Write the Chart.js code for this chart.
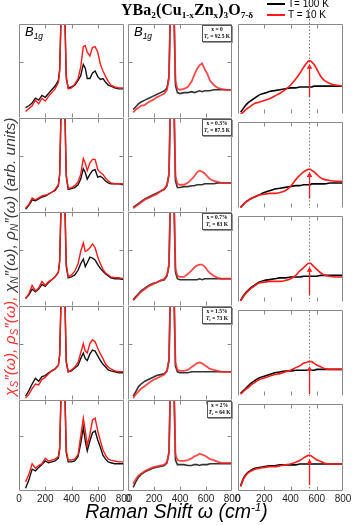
<!DOCTYPE html>
<html>
<head>
<meta charset="utf-8">
<script src="https://cdn.jsdelivr.net/npm/chart.js@4.4.0/dist/chart.umd.min.js"></script>
<style>
  body { margin: 0; width: 353px; height: 525px; overflow: hidden; position: relative; background: #fff;
         font-family: "Liberation Sans", Arial, sans-serif; }
  canvas { position: absolute; }
  .t { position: absolute; white-space: nowrap; }
  sub { font-size: 65%; vertical-align: -0.3em; line-height: 0; }
  sup { font-size: 60%; vertical-align: 0.6em; line-height: 0; }
  .box { position: absolute; border: 1px solid #555; background: #fff; box-shadow: 1px 1px 0 #999;
         font: bold 5.5px "Liberation Serif", serif; line-height: 7px; text-align: center; }
</style>
</head>
<body>
<script>
// Raman shift grids (cm-1), one per column
const FREQ_RAW = [50,75,100,125,150,175,200,225,250,275,300,310,320,335,350,360,375,400,425,450,
                  470,490,505,520,540,560,580,600,620,640,660,680,700,730,760,800];
const FREQ_EL = [40,60,80,100,130,160,190,220,250,280,300,315,325,340,355,365,380,400,430,460,
                 490,510,530,550,570,590,610,630,660,690,720,760,800];
const FREQ_MOD = [20,40,60,80,100,130,160,200,240,280,320,360,400,440,470,500,520,540,550,560,
                  580,600,630,660,700,750,800];

// column 1 : measured B1g spectra, T = 10 K (red) and T = 100 K (black), rows x = 0 ... 2 %
const RAW_10K = [
  [7,10,13,19,15,21,18,23,27,31,38,50,105,200,105,45,31,32,36,42,54,76,77,70,66,75,76,70,57,50,44,39,35,33,32,32],
  [4,8,15,13,15,17,18,19,21,24,29,40,105,200,105,40,25,26,28,32,40,57,52,44,52,56,56,45,42,40,36,33,31,30,30,30],
  [8,13,22,16,19,26,22,26,28,31,36,48,105,200,105,45,31,33,37,45,58,67,58,59,62,66,62,52,45,39,35,33,31,30,30,29],
  [2,6,12,17,16,22,24,28,31,33,37,48,105,200,105,42,30,32,35,40,50,60,52,50,60,64,62,55,49,44,38,35,33,31,30,30],
  [10,18,30,25,28,30,36,33,34,35,38,48,105,200,105,45,34,34,35,40,60,80,66,50,62,78,80,66,55,45,39,35,34,33,32,32]
];
const RAW_100K = [
  [11,13,16,21,19,24,22,26,30,34,40,52,105,200,105,42,32,33,35,40,45,57,53,42,42,48,50,44,41,42,38,35,34,32,31,31],
  [3,7,13,12,14,16,17,19,21,23,28,40,105,200,105,38,24,25,26,29,35,46,42,35,40,44,45,37,38,36,33,31,30,30,30,29],
  [8,12,18,15,18,23,21,25,28,31,36,48,105,200,105,42,30,31,33,38,45,50,42,46,52,51,49,44,40,37,34,32,30,29,29,28],
  [4,10,17,23,20,25,26,29,31,33,37,48,105,200,105,40,30,31,34,37,44,50,44,42,49,53,52,47,42,38,35,32,31,30,29,29],
  [3,12,24,22,26,29,33,31,32,33,36,46,105,200,105,42,32,32,33,38,52,70,55,44,55,64,66,56,48,39,35,32,31,30,30,30]
];

// column 2 : electronic response (phonons subtracted)
const EL_10K = [
  [6,9,11,13,14,17,19,22,24,26,30,42,105,200,105,40,31,30,31,33,39,46,52,56,58,52,47,40,35,32,31,30,30],
  [4,6,8,10,13,15,17,19,22,25,29,40,105,200,105,38,30,29,29,31,35,38,42,44,43,41,38,35,33,32,31,31,31],
  [6,9,12,15,18,21,23,25,27,29,33,44,105,200,105,40,32,31,31,34,38,41,43,44,44,42,38,35,32,30,29,29,29],
  [2,6,9,12,15,18,21,23,25,27,31,42,105,200,105,40,32,31,31,32,35,37,39,40,39,37,35,33,32,31,30,30,30],
  [8,13,17,19,22,24,26,27,28,29,32,42,105,200,105,40,34,33,33,34,36,38,39,41,40,39,37,35,34,32,31,31,31]
];
const EL_100K = [
  [9,12,15,17,19,21,23,25,27,29,32,44,105,200,105,35,27,26,27,27,28,27,28,29,28,29,29,29,30,30,30,30,30],
  [5,7,9,11,14,16,18,20,22,24,28,40,105,200,105,33,26,26,27,27,28,28,29,29,29,30,30,30,30,31,31,31,31],
  [7,10,13,16,19,22,24,25,27,28,32,43,105,200,105,36,29,28,28,28,28,28,28,29,28,29,29,29,29,29,29,29,29],
  [4,9,14,17,20,22,24,26,27,28,31,42,105,200,105,36,30,29,29,29,30,30,30,30,30,30,30,30,30,30,30,30,30],
  [4,10,15,18,21,23,25,26,27,28,31,42,105,200,105,34,29,29,29,28,28,29,29,28,29,29,29,30,30,30,30,30,30]
];

// column 3 : model curves
const MOD_10K = [
  [0,2,5,7,9,12,13,15,17,20,23,27,32,39,45,52,56,59,59,58,55,50,42,37,34,32,31],
  [0,4,7,9,11,13,15,16,17,17,18,20,25,33,38,42,44,45,45,44,42,39,35,33,32,31,31],
  [1,6,10,13,16,19,22,23,24,24,24,25,27,31,36,40,43,45,45,44,41,38,34,31,30,29,29],
  [2,5,8,10,13,16,19,21,23,25,26,28,30,33,35,38,39,40,40,40,38,36,34,32,31,31,31],
  [5,13,18,21,23,25,26,27,28,28,29,30,31,33,35,38,40,41,41,40,38,36,34,32,31,31,31]
];
const MOD_100K = [
  [2,6,10,13,15,18,21,23,25,26,27,28,29,29,30,30,30,30,30,30,31,31,31,31,31,31,31],
  [1,4,7,9,11,13,15,18,20,22,23,24,25,26,26,27,27,27,27,28,28,28,28,28,29,29,29],
  [2,7,11,14,17,20,23,25,26,27,28,28,29,29,29,30,30,30,30,30,30,30,31,31,31,31,31],
  [3,6,9,12,15,18,21,23,25,27,28,29,29,30,30,30,30,30,30,30,30,31,31,31,31,31,31],
  [6,14,19,22,24,26,27,28,29,29,30,30,30,30,31,31,31,31,31,31,31,31,31,31,31,31,31]
];
const GAP_FREQ = 545;                 // dotted line / arrows
const ARROW_FROM = [19, 11, 8, 2, 7];
const ARROW_TO = [52, 38, 37, 31, 33];

const ZN_LABELS = ['x = 0', 'x = 0.3%', 'x = 0.7%', 'x = 1.5%', 'x = 2%'];
const TC_LABELS = ['92.5 K', '87.5 K', '83 K', '73 K', '64 K'];
const X_TICKS = [0, 200, 400, 600, 800];

// panel geometry
const COL_X = [19, 128, 238];
const COL_W = [105, 104, 105];
const ROW_Y = [24, 118, 212, 306, 400];
const ROW_H = [94, 94, 94, 94, 93];
const RED = '#ff1a1a';

const pts = (xs, ys) => xs.map((x, i) => ({ x: x, y: ys[i] }));

const framePlugin = {
  id: 'frame',
  afterDatasetsDraw(chart, args, opts) {
    const { ctx, chartArea: a, scales } = chart;
    const l = Math.round(a.left) + 0.5, r = Math.round(a.right) - 0.5;
    const t = Math.round(a.top) + 0.5, b = Math.round(a.bottom) - 0.5;
    ctx.save();
    ctx.strokeStyle = '#8a8a8a';
    ctx.lineWidth = 1;
    ctx.beginPath();
    ctx.moveTo(l, b); ctx.lineTo(l, t); ctx.lineTo(r, t); ctx.lineTo(r, b);
    if (opts.bottom) { ctx.moveTo(l, b); ctx.lineTo(r, b); }
    [200, 400, 600].forEach(v => {
      const x = Math.round(scales.x.getPixelForValue(v)) + 0.5;
      ctx.moveTo(x, t); ctx.lineTo(x, t + 4);
      ctx.moveTo(x, b); ctx.lineTo(x, b - 4);
    });
    if (opts.yTick) {
      const y = Math.round(scales.y.getPixelForValue(60)) + 0.5;
      ctx.moveTo(l, y); ctx.lineTo(l + 4, y);
      ctx.moveTo(r, y); ctx.lineTo(r - 4, y);
    }
    ctx.stroke();
    ctx.restore();
  }
};

function line(data, color, width, extra) {
  return Object.assign({ data: data, borderColor: color, borderWidth: width, pointRadius: 0,
                         fill: false, tension: 0 }, extra || {});
}

function makePanel(r, c) {
  const bottomRow = r === 4;
  const padTop = (r === 0 && c === 2) ? 24 : 0;
  const axisH = bottomRow ? 14 : 0;
  const W = COL_W[c] + 28, H = ROW_H[r] + padTop + axisH;
  const cv = document.createElement('canvas');
  cv.width = W; cv.height = H;
  cv.style.left = (COL_X[c] - 14) + 'px';
  cv.style.top = (ROW_Y[r] - padTop) + 'px';
  cv.style.width = W + 'px'; cv.style.height = H + 'px';
  document.body.appendChild(cv);

  let datasets;
  if (c === 0) {
    datasets = [line(pts(FREQ_RAW, RAW_10K[r]), RED, 1.4),
                line(pts(FREQ_RAW, RAW_100K[r]), '#111', 1.4)];
  } else if (c === 1) {
    datasets = [line(pts(FREQ_EL, EL_10K[r]), 'rgba(255,40,40,0.85)', 1.8),
                line(pts(FREQ_EL, EL_100K[r]), '#333', 1.6)];
  } else {
    datasets = [
      line([{ x: GAP_FREQ, y: ARROW_FROM[r] }, { x: GAP_FREQ, y: ARROW_TO[r] }], RED, 1.3,
           { pointRadius: [0, 3.2], pointStyle: 'triangle', pointBackgroundColor: RED, pointBorderWidth: 0 }),
      line(pts(FREQ_MOD, MOD_10K[r]), RED, 1.6, { cubicInterpolationMode: 'monotone' }),
      line(pts(FREQ_MOD, MOD_100K[r]), '#000', 1.6, { cubicInterpolationMode: 'monotone' }),
      line([{ x: GAP_FREQ, y: -5 }, { x: GAP_FREQ, y: r === 0 ? 130 : 105 }], '#777', 1,
           { borderDash: [1.5, 2], clip: r === 0 ? false : undefined })
    ];
  }

  new Chart(cv, {
    type: 'line',
    data: { datasets: datasets },
    options: {
      responsive: false, animation: false, devicePixelRatio: 1, events: [],
      layout: { padding: { left: 14, right: 14, top: padTop, bottom: 0 } },
      plugins: { legend: { display: false }, tooltip: { enabled: false },
                 frame: { yTick: c < 2, bottom: bottomRow } },
      scales: {
        x: {
          type: 'linear', min: 0, max: 800, display: bottomRow,
          grid: { display: false, drawTicks: false }, border: { display: false },
          afterBuildTicks: s => { s.ticks = X_TICKS.map(v => ({ value: v })); },
          ticks: { padding: 2, maxRotation: 0, autoSkip: false, color: '#222',
                   font: { size: 10, family: 'Liberation Sans' } }
        },
        y: { min: 0, max: 100, display: false }
      }
    },
    plugins: [framePlugin]
  });
}

for (let r = 0; r < 5; r++) for (let c = 0; c < 3; c++) makePanel(r, c);

// text overlays
function addText(html, css) {
  const d = document.createElement('div');
  d.className = 't';
  d.innerHTML = html;
  Object.assign(d.style, css);
  document.body.appendChild(d);
  return d;
}
addText('YBa<sub style="font-size:58%">2</sub>(Cu<sub style="font-size:58%">1-x</sub>Zn<sub style="font-size:58%">x</sub>)' +
        '<sub style="font-size:58%">3</sub>O<sub style="font-size:58%">7-δ</sub>',
        { left: '121px', top: '2px', font: 'bold 16px "Liberation Serif", serif', lineHeight: '16px' });

// legend
[['T= 100 K', '#000', 4], ['T = 10 K', RED, 15]].forEach(([txt, col, y]) => {
  addText('', { left: '267px', top: (y - 1) + 'px', width: '18px', height: '1.6px', background: col });
  addText(txt, { left: '288px', top: (y - 6) + 'px', fontSize: '10px', lineHeight: '12px', color: '#000' });
});

addText('<i>B</i><sub><i>1g</i></sub>', { left: '25px', top: '25px', fontSize: '13px', lineHeight: '14px' });
addText('<i>B</i><sub><i>1g</i></sub>', { left: '134px', top: '25px', fontSize: '13px', lineHeight: '14px' });

for (let r = 0; r < 5; r++) {
  const b = document.createElement('div');
  b.className = 'box';
  const left = r === 4 ? 207 : 202;
  Object.assign(b.style, { left: left + 'px', top: (ROW_Y[r] + 1) + 'px', width: (230 - left) + 'px', height: '15px' });
  b.innerHTML = ZN_LABELS[r] + '<br><i>T</i><sub>c</sub> = ' + TC_LABELS[r];
  document.body.appendChild(b);
}

// vertical axis title, running upwards from its bottom end
addText('<span style="color:#ff3030"><i>χ<sub>S</sub>″(ω), ρ<sub>S</sub>″(ω),</i></span> ' +
        '<i>χ<sub>N</sub>″(ω), ρ<sub>N</sub>″(ω) (arb. units)</i>',
        { left: '1px', top: '396px', fontSize: '15.5px', color: '#3a3a3a', lineHeight: '17px',
          transformOrigin: '0 0', transform: 'rotate(-90deg)' });

addText('<i>Raman Shift ω (cm<sup>-1</sup>)</i>',
        { left: '0px', width: '353px', textAlign: 'center', top: '500px', fontSize: '19.5px', lineHeight: '22px', color: '#000' });
</script>
</body>
</html>
